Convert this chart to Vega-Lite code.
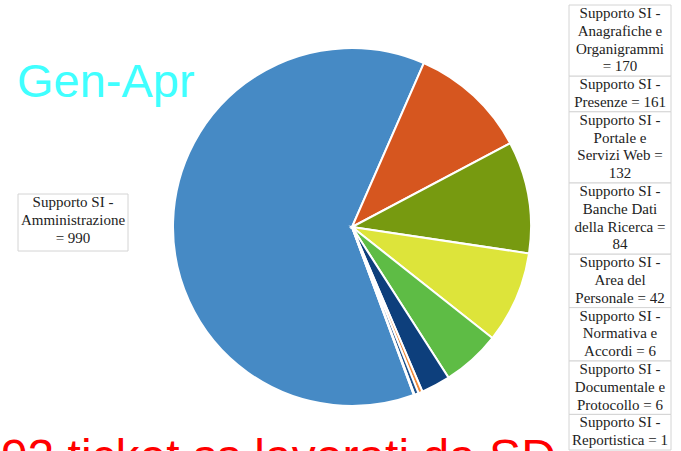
{
  "$schema": "https://vega.github.io/schema/vega-lite/v6.json",
  "width": 704,
  "height": 454,
  "padding": 0,
  "autosize": {"type": "none"},
  "background": "white",
  "config": {"view": {"stroke": null}},
  "title": {
    "text": "Gen-Apr",
    "anchor": "start",
    "frame": "group",
    "orient": "top",
    "offset": -144,
    "dx": 17,
    "baseline": "alphabetic",
    "font": "Liberation Sans",
    "fontSize": 47,
    "fontWeight": "normal",
    "color": "#40ffff"
  },
  "data": {
    "values": [
      {"idx": 1, "category": "Supporto SI - Amministrazione", "value": 990, "label": "Supporto SI -\nAmministrazione\n= 990"},
      {"idx": 2, "category": "Supporto SI - Anagrafiche e Organigrammi", "value": 170, "label": "Supporto SI -\nAnagrafiche e\nOrganigrammi\n= 170"},
      {"idx": 3, "category": "Supporto SI - Presenze", "value": 161, "label": "Supporto SI -\nPresenze = 161"},
      {"idx": 4, "category": "Supporto SI - Portale e Servizi Web", "value": 132, "label": "Supporto SI -\nPortale e\nServizi Web =\n132"},
      {"idx": 5, "category": "Supporto SI - Banche Dati della Ricerca", "value": 84, "label": "Supporto SI -\nBanche Dati\ndella Ricerca =\n84"},
      {"idx": 6, "category": "Supporto SI - Area del Personale", "value": 42, "label": "Supporto SI -\nArea del\nPersonale = 42"},
      {"idx": 7, "category": "Supporto SI - Normativa e Accordi", "value": 6, "label": "Supporto SI -\nNormativa e\nAccordi = 6"},
      {"idx": 8, "category": "Supporto SI - Documentale e Protocollo", "value": 6, "label": "Supporto SI -\nDocumentale e\nProtocollo = 6"},
      {"idx": 9, "category": "Supporto SI - Reportistica", "value": 1, "label": "Supporto SI -\nReportistica = 1"}
    ]
  },
  "layer": [
    {
      "mark": {"type": "arc", "outerRadius": 179, "stroke": "white", "strokeWidth": 2},
      "encoding": {
        "theta": {"field": "value", "type": "quantitative", "stack": true, "scale": {"range": [2.789, 9.072]}},
        "order": {"field": "idx", "type": "quantitative"},
        "color": {
          "field": "category",
          "type": "nominal",
          "scale": {
            "domain": [
              "Supporto SI - Amministrazione",
              "Supporto SI - Anagrafiche e Organigrammi",
              "Supporto SI - Presenze",
              "Supporto SI - Portale e Servizi Web",
              "Supporto SI - Banche Dati della Ricerca",
              "Supporto SI - Area del Personale",
              "Supporto SI - Normativa e Accordi",
              "Supporto SI - Documentale e Protocollo",
              "Supporto SI - Reportistica"
            ],
            "range": ["#468ac5", "#d6561f", "#779a10", "#dde43a", "#5ebc45", "#0d3f7c", "#f08a3a", "#1b4f8a", "#f5a060"]
          },
          "legend": null
        }
      }
    },
    {
      "transform": [
        {"filter": "datum.idx > 1"},
        {"calculate": "length(split(datum.label, '\\n'))", "as": "nlines"},
        {"stack": "nlines", "groupby": [], "sort": [{"field": "idx", "order": "ascending"}], "as": ["l0", "l1"]}
      ],
      "encoding": {
        "x": {
          "datum": "right",
          "type": "nominal",
          "scale": {"domain": ["right"], "range": [569, 671], "paddingInner": 0, "paddingOuter": 0},
          "axis": {
            "domain": false, "ticks": false, "labels": false, "grid": false,
            "title": "1592 ticket ss lavorati da SD",
            "titleFont": "Liberation Sans",
            "titleFontSize": 48,
            "titleFontWeight": "normal",
            "titleColor": "#ff0000",
            "titleX": -53,
            "titleY": 18,
            "titleAlign": "left",
            "titleBaseline": "alphabetic"
          }
        },
        "y": {
          "field": "l0",
          "type": "quantitative",
          "scale": {"domain": [0, 25], "range": [5, 450], "nice": false, "zero": false},
          "axis": null
        }
      },
      "layer": [
        {
          "mark": {"type": "rect", "fill": "white", "stroke": "#d4d4d4", "strokeWidth": 1},
          "encoding": {"y2": {"field": "l1"}}
        },
        {
          "mark": {"type": "text", "font": "Liberation Serif", "fontSize": 15, "lineBreak": "\n", "lineHeight": 17.8, "color": "#222222", "align": "center", "baseline": "top", "dy": 1},
          "encoding": {"text": {"field": "label"}}
        }
      ]
    },
    {
      "transform": [
        {"filter": "datum.idx == 1"},
        {"calculate": "length(split(datum.label, '\\n'))", "as": "nlines"},
        {"stack": "nlines", "groupby": [], "sort": [{"field": "idx", "order": "ascending"}], "as": ["l0", "l1"]}
      ],
      "encoding": {
        "x": {
          "datum": "left",
          "type": "nominal",
          "scale": {"domain": ["left"], "range": [18, 128], "paddingInner": 0, "paddingOuter": 0},
          "axis": null
        },
        "y": {
          "field": "l0",
          "type": "quantitative",
          "scale": {"domain": [0, 3], "range": [194, 251], "nice": false, "zero": false},
          "axis": null
        }
      },
      "layer": [
        {
          "mark": {"type": "rect", "fill": "white", "stroke": "#d4d4d4", "strokeWidth": 1},
          "encoding": {"y2": {"field": "l1"}}
        },
        {
          "mark": {"type": "text", "font": "Liberation Serif", "fontSize": 15, "lineBreak": "\n", "lineHeight": 17.8, "color": "#222222", "align": "center", "baseline": "top", "dy": 1},
          "encoding": {"text": {"field": "label"}}
        }
      ]
    }
  ],
  "resolve": {"scale": {"x": "independent", "y": "independent"}}
}
